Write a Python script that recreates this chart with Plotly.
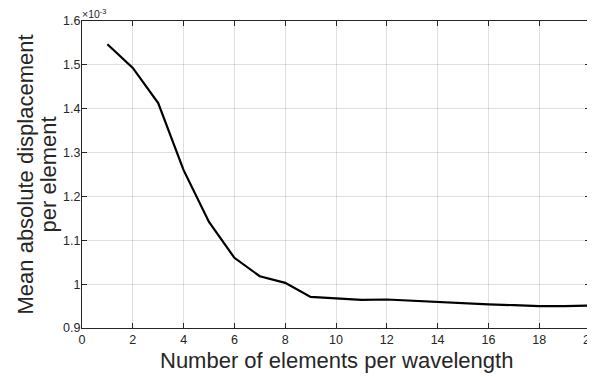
import plotly.graph_objects as go

# Data
elements_per_wavelength = list(range(1, 21))
mean_abs_disp_e3 = [1.547, 1.493, 1.413, 1.260, 1.142, 1.060, 1.018, 1.003, 0.971, 0.968,
                    0.964, 0.965, 0.962, 0.959, 0.956, 0.954, 0.952, 0.950, 0.950, 0.951]
x_ticks = list(range(0, 21, 2))
y_ticks = [0.9, 1.0, 1.1, 1.2, 1.3, 1.4, 1.5, 1.6]
y_tick_labels = ["0.9", "1", "1.1", "1.2", "1.3", "1.4", "1.5", "1.6"]
x_title = "Number of elements per wavelength"
y_title_lines = ["Mean absolute displacement", "per element"]

font_family = "Liberation Sans, Arial, Helvetica, sans-serif"
axis_col = "#262626"
OFF = 8  # default page body margin
W, H = 595 - OFF, 377 - OFF
L, R, T, B = 82 - OFF, 5, 21 - OFF, 49

fig = go.Figure()
fig.add_trace(go.Scatter(x=elements_per_wavelength, y=mean_abs_disp_e3, mode="lines",
                         line=dict(color="black", width=2.2), showlegend=False))

common = dict(showline=True, linecolor=axis_col, linewidth=1, mirror="ticks",
              ticks="inside", ticklen=5, tickcolor=axis_col, tickwidth=1,
              showgrid=True, gridcolor="rgba(38,38,38,0.15)", gridwidth=1,
              zeroline=False, automargin=False, ticklabeloverflow="allow",
              tickfont=dict(family=font_family, size=12.5, color=axis_col))

fig.update_xaxes(range=[0, 20], tickvals=x_ticks, ticktext=[str(v) for v in x_ticks], **common)
fig.update_yaxes(range=[0.9, 1.6], tickvals=y_ticks, ticktext=y_tick_labels,
                 ticklabelstandoff=-2, **common)

# x axis title (page y ~360)
fig.add_annotation(xref="paper", yref="paper", x=0.5, y=0, xanchor="center", yanchor="middle",
                   yshift=-(360 - (377 - B)), text=x_title, showarrow=False,
                   font=dict(family=font_family, size=22, color=axis_col))
# y axis title (two lines, MATLAB-like tight spacing)
for line_text, cx in zip(y_title_lines, [25, 48]):
    fig.add_annotation(xref="paper", yref="paper", x=0, y=0.5, xanchor="center", yanchor="middle",
                       xshift=cx - 82, text=line_text, textangle=-90, showarrow=False,
                       font=dict(family=font_family, size=22, color=axis_col))

# exponent label
fig.add_annotation(xref="paper", yref="paper", x=0, y=1, xanchor="left", yanchor="bottom",
                   text="×10<sup>-3</sup>", showarrow=False, xshift=-2, yshift=-1,
                   font=dict(family=font_family, size=10.5, color=axis_col))

fig.update_layout(width=W, height=H, margin=dict(l=L, r=R, t=T, b=B),
                  paper_bgcolor="white", plot_bgcolor="white")

fig.write_html("out.html")
